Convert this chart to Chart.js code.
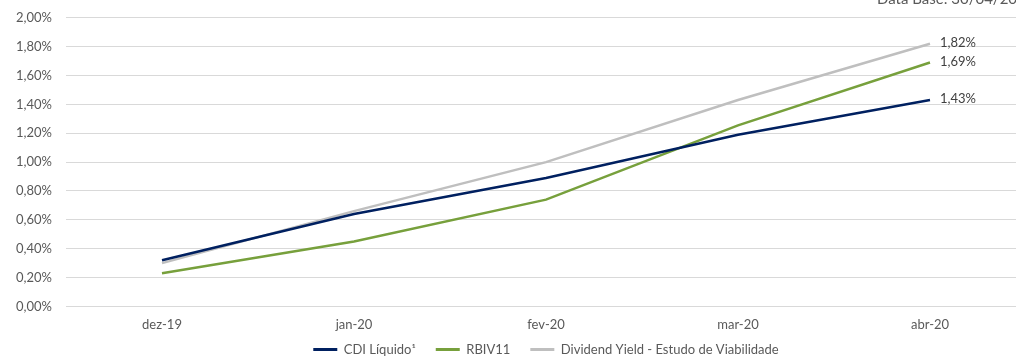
<!DOCTYPE html>
<html>
<head>
<meta charset="utf-8">
<script src="https://cdn.jsdelivr.net/npm/chart.js@4/dist/chart.umd.min.js"></script>
<style>
  html, body { margin: 0; padding: 0; background: #fff; overflow: hidden; }
  #wrap { position: relative; width: 1016px; height: 356px; overflow: hidden; }
  #box { position: absolute; left: 0; top: -4px; width: 1030px; height: 391px; }
  #database { position: absolute; left: 877px; top: -11px; font: 15px Lato, "Open Sans", sans-serif; color: #595959; white-space: nowrap; }
</style>
</head>
<body>
<div id="wrap">
  <div id="box"><canvas id="chart"></canvas></div>
  <div id="database">Data Base: 30/04/2020</div>
</div>
<script>
// dados
var meses = ['dez-19', 'jan-20', 'fev-20', 'mar-20', 'abr-20'];
var cdiLiquido = [0.32, 0.64, 0.89, 1.19, 1.43];
var rbiv11 = [0.23, 0.45, 0.74, 1.255, 1.69];
var dividendYield = [0.30, 0.66, 1.00, 1.43, 1.82];
var yTicks = [0, 0.2, 0.4, 0.6, 0.8, 1.0, 1.2, 1.4, 1.6, 1.8, 2.0];

var fonte = 'Lato, "Open Sans", sans-serif';

var fmt = function (v) {
    return v.toFixed(2).replace('.', ',') + '%';
};

// rotulo so no ultimo ponto de cada serie
var ultimoRotulo = {
    id: 'ultimoRotulo',
    afterDatasetsDraw: function (chart) {
        var ctx = chart.ctx;
        ctx.save();
        ctx.font = '13px ' + fonte;
        ctx.fillStyle = '#404040';
        ctx.textAlign = 'left';
        ctx.textBaseline = 'middle';
        chart.data.datasets.forEach(function (ds, i) {
            var meta = chart.getDatasetMeta(i);
            var n = ds.data.length - 1;
            var pt = meta.data[n];
            ctx.fillText(fmt(ds.data[n]), pt.x + 10, pt.y - 1);
        });
        ctx.restore();
    }
};

// sobe a legenda pra ficar colada nos rotulos do eixo x
var subirLegenda = {
    id: 'subirLegenda',
    afterLayout: function (chart) {
        chart.legend.top -= 21;
    }
};

var canvas = document.getElementById('chart');
var chart = new Chart(canvas.getContext('2d'), {
    type: 'line',
    data: {
        labels: meses,
        datasets: [
            { label: 'CDI Líquido¹', data: cdiLiquido, borderColor: '#002060', backgroundColor: '#002060', borderWidth: 2.5 },
            { label: 'RBIV11', data: rbiv11, borderColor: '#77a03c', backgroundColor: '#77a03c', borderWidth: 2.5 },
            { label: 'Dividend Yield - Estudo de Viabilidade', data: dividendYield, borderColor: '#bfbfbf', backgroundColor: '#bfbfbf', borderWidth: 2.5 }
        ]
    },
    options: {
        responsive: true,
        maintainAspectRatio: false,
        animation: false,
        layout: { padding: { top: 0, right: 4, left: 0, bottom: 0 } },
        elements: { point: { radius: 0 }, line: { tension: 0 } },
        plugins: {
            tooltip: { enabled: false },
            legend: {
                position: 'bottom',
                fullSize: false,
                labels: {
                    boxWidth: 24,
                    boxHeight: 3,
                    padding: 20,
                    color: '#595959',
                    font: { family: fonte, size: 13 },
                    generateLabels: function (chart) {
                        var itens = Chart.defaults.plugins.legend.labels.generateLabels(chart);
                        itens.forEach(function (it) { it.lineWidth = 0; });
                        return itens;
                    }
                }
            }
        },
        scales: {
            x: {
                offset: true,
                grid: { display: false, drawTicks: false },
                border: { display: false },
                ticks: { color: '#595959', padding: 11, font: { family: fonte, size: 13 } }
            },
            y: {
                min: 0,
                max: 2,
                afterBuildTicks: function (axis) {
                    axis.ticks = yTicks.map(function (v) { return { value: v }; });
                },
                afterFit: function (axis) { axis.width = 66; },
                grid: { color: '#d9d9d9', lineWidth: 1, drawTicks: false },
                border: { display: false },
                ticks: {
                    color: '#595959',
                    padding: 14,
                    font: { family: fonte, size: 13 },
                    callback: function (v) { return fmt(v); }
                }
            }
        }
    },
    plugins: [ultimoRotulo, subirLegenda]
});
</script>
</body>
</html>
